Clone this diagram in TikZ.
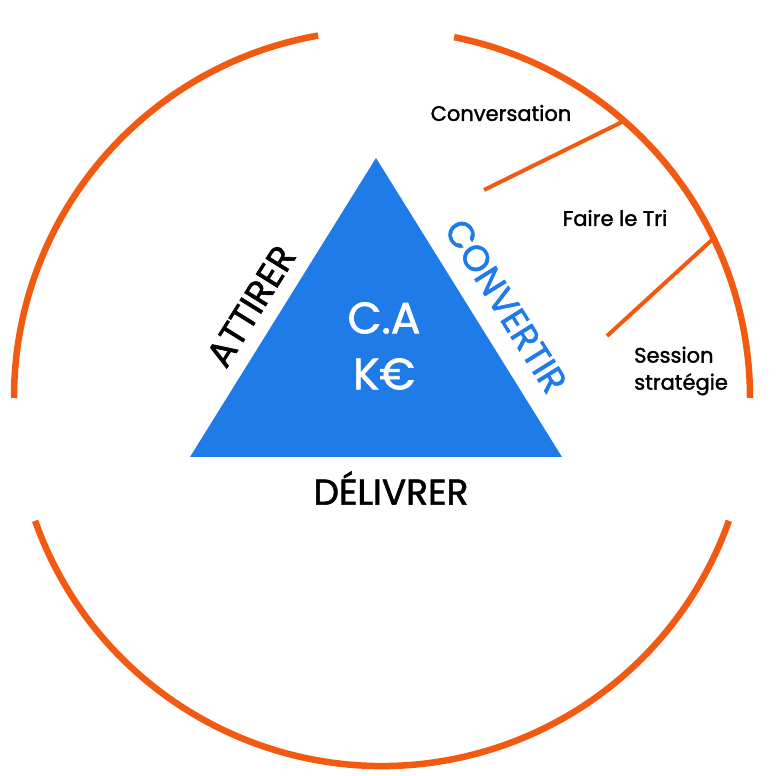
\documentclass[tikz,border=0pt]{standalone}
\usepackage{fontspec}
\setmainfont{Poppins}[FakeBold=1.2,AutoFakeBold=1.2]
\newfontfamily\med{Poppins}[FakeBold=1.6]
\definecolor{org}{HTML}{F25A12}
\definecolor{blu}{HTML}{1F7BE8}
\begin{document}
\begin{tikzpicture}[x=1pt,y=1pt,
  ring/.style={draw=org,line width=6.5pt},
  tick/.style={draw=org,line width=4pt},
  lab/.style={font=\med\fontsize{21}{27}\selectfont,align=left,inner sep=0pt},
  side/.style={font=\med\fontsize{36}{40}\selectfont,inner sep=0pt}]
\useasboundingbox (0,0) rectangle (776,776);
\coordinate (c) at (382,378);
\draw[ring] ([shift={(78.7:368)}]c) arc[start angle=78.7,end angle=0,radius=368];
\draw[ring] ([shift={(100:368)}]c) arc[start angle=100,end angle=180,radius=368];
\draw[ring] ([shift={(199.5:368)}]c) arc[start angle=199.5,end angle=340.5,radius=368];
\fill[blu] (376,618) coordinate (apex) -- (190,319) coordinate (bl) -- (562,319) coordinate (br) -- cycle;
\coordinate (a1) at (484,586); \coordinate (a2) at (622,654);
\coordinate (b1) at (607,440); \coordinate (b2) at (714,538);
\draw[tick] (a1) -- (a2);
\draw[tick] (b1) -- (b2);
\node[lab] (conv) at (501,663) {Conversation};
\node[lab] (tri) at (615,558) {Faire le Tri};
\node[lab,anchor=west] (sess) at (634,405) {Session\\stratégie};
\node[side,rotate=58] (att) at (251,306) [yshift=0pt] {};
\node[side,rotate=58] (att2) at (251,470) {ATTIRER};
\node[side,rotate=-58,text=blu] (cvt) at (506,470) {CONVERTIR};
\node[side] (del) at (391,288) {DÉLIVRER};
\node[font=\med\fontsize{44}{56}\selectfont,text=white,align=center,inner sep=0pt] (ca) at (384,430) {C.A\\K€};
\end{tikzpicture}
\end{document}
